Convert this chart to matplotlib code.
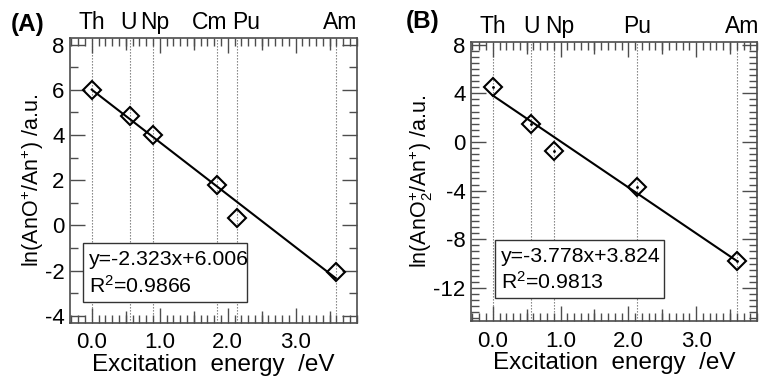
import numpy as np
import matplotlib
matplotlib.use('Agg')
import matplotlib.pyplot as plt
from matplotlib.ticker import MultipleLocator, FixedLocator, FuncFormatter
from matplotlib.patches import Rectangle

plt.rcParams['font.family'] = ['Liberation Sans', 'DejaVu Sans']
plt.rcParams['mathtext.fontset'] = 'custom'
plt.rcParams['mathtext.rm'] = 'Liberation Sans'
plt.rcParams['mathtext.it'] = 'Liberation Sans:italic'
plt.rcParams['mathtext.bf'] = 'Liberation Sans:bold'
plt.rcParams['axes.unicode_minus'] = False

# panel A: AnO+
elem_a = ['Th', 'U', 'Np', 'Cm', 'Pu', 'Am']
energy_a = [0.0, 0.56, 0.90, 1.84, 2.13, 3.59]
ln_a = [6.0, 4.85, 4.0, 1.8, 0.35, -2.05]
fit_a = (-2.323, 6.006)
r2_a = '0.9866'

# panel B: AnO2+
elem_b = ['Th', 'U', 'Np', 'Pu', 'Am']
energy_b = [0.0, 0.57, 0.90, 2.13, 3.60]
ln_b = [4.5, 1.5, -0.7, -3.7, -9.8]
fit_b = (-3.778, 3.824)
r2_b = '0.9813'

fig = plt.figure(figsize=(7.59, 3.77), dpi=100)
ax1 = fig.add_axes([0.0922, 0.144, 0.378, 0.754])
ax2 = fig.add_axes([0.6206, 0.149, 0.377, 0.739])


def panel(ax, elem, en, y, fit, r2, ylim, ymaj, ymin, ylab, lab_off, box, dots):
    ax.set_xlim(-0.32, 3.9)
    ax.set_ylim(*ylim)
    for e in en:
        ax.axvline(e, color='0.45', lw=0.8, ls=(0, (1.2, 1.5)), zorder=1)
    xs = np.array([0, en[-1]])
    ax.plot(xs, fit[0] * xs + fit[1], color='k', lw=1.5, zorder=2)
    ax.plot(en, y, 'D', ms=9.5, mfc='none', mec='k', mew=1.5, zorder=3)
    if dots:
        ax.plot(en, y, '.', ms=2, color='k', zorder=3)

    ax.xaxis.set_major_locator(MultipleLocator(1.0))
    ax.xaxis.set_minor_locator(MultipleLocator(0.1))
    ax.xaxis.set_major_formatter(FuncFormatter(lambda v, p: '%.1f' % v))
    ax.yaxis.set_major_locator(MultipleLocator(ymaj))
    ax.yaxis.set_minor_locator(MultipleLocator(ymin))
    ax.tick_params(which='both', direction='in', top=True, right=True,
                   labelsize=16, color='0.3')
    ax.tick_params(which='major', length=11, width=1)
    ax.tick_params(which='minor', length=5.5, width=1)
    ax.tick_params(axis='x', pad=7)
    ax.tick_params(axis='y', pad=4)
    for side in ['bottom', 'top']:
        sec = ax.secondary_xaxis(side)
        sec.xaxis.set_major_locator(FixedLocator([0.5, 1.5, 2.5, 3.5]))
        sec.tick_params(direction='in', length=8.5, width=1, color='0.3',
                        labelbottom=False, labeltop=False)
        sec.spines[side].set_visible(False)
    for s in ax.spines.values():
        s.set_color('0.3')
        s.set_linewidth(1.2)

    for name, e, off in zip(elem, en, lab_off):
        ax.annotate(name, (e, 1.0), xycoords=('data', 'axes fraction'),
                    xytext=(off, 3), textcoords='offset points',
                    ha='center', va='bottom', fontsize=16.5)

    ax.set_xlabel('Excitation  energy  /eV', fontsize=17.5, labelpad=0.5)
    ax.set_ylabel(ylab, fontsize=15.5, labelpad=-1)

    x0, y0, w, h = box
    ax.add_patch(Rectangle((x0, y0), w, h, transform=ax.transAxes,
                           fill=True, fc='white', ec='0.2', lw=1, zorder=4))
    ax.text(x0 + 0.022, y0 + h * 0.72, 'y=%.3fx+%.3f' % fit, transform=ax.transAxes,
            fontsize=15.3, va='center', ha='left', zorder=5)
    ax.text(x0 + 0.022, y0 + h * 0.27, 'R$^{2}$=' + r2, transform=ax.transAxes,
            fontsize=15.3, va='center', ha='left', zorder=5)


panel(ax1, elem_a, energy_a, ln_a, fit_a, r2_a, (-4.3, 8.27), 2, 1,
      'ln(AnO$^{+}$/An$^{+}$) /a.u.', [0, -1, 1, -5, 7, 3],
      (0.045, 0.073, 0.572, 0.207), False)
panel(ax2, elem_b, energy_b, ln_b, fit_b, r2_b, (-14.7, 8.2), 4, 0.5,
      'ln(AnO$_{2}^{+}$/An$^{+}$) /a.u.', [0, 0, 4, 0, 4],
      (0.084, 0.082, 0.59, 0.208), True)

fig.text(0.014, 0.905, '(A)', fontsize=17.5, fontweight='bold', va='bottom')
fig.text(0.534, 0.912, '(B)', fontsize=17.5, fontweight='bold', va='bottom')

fig.savefig('out.png', dpi=100)
